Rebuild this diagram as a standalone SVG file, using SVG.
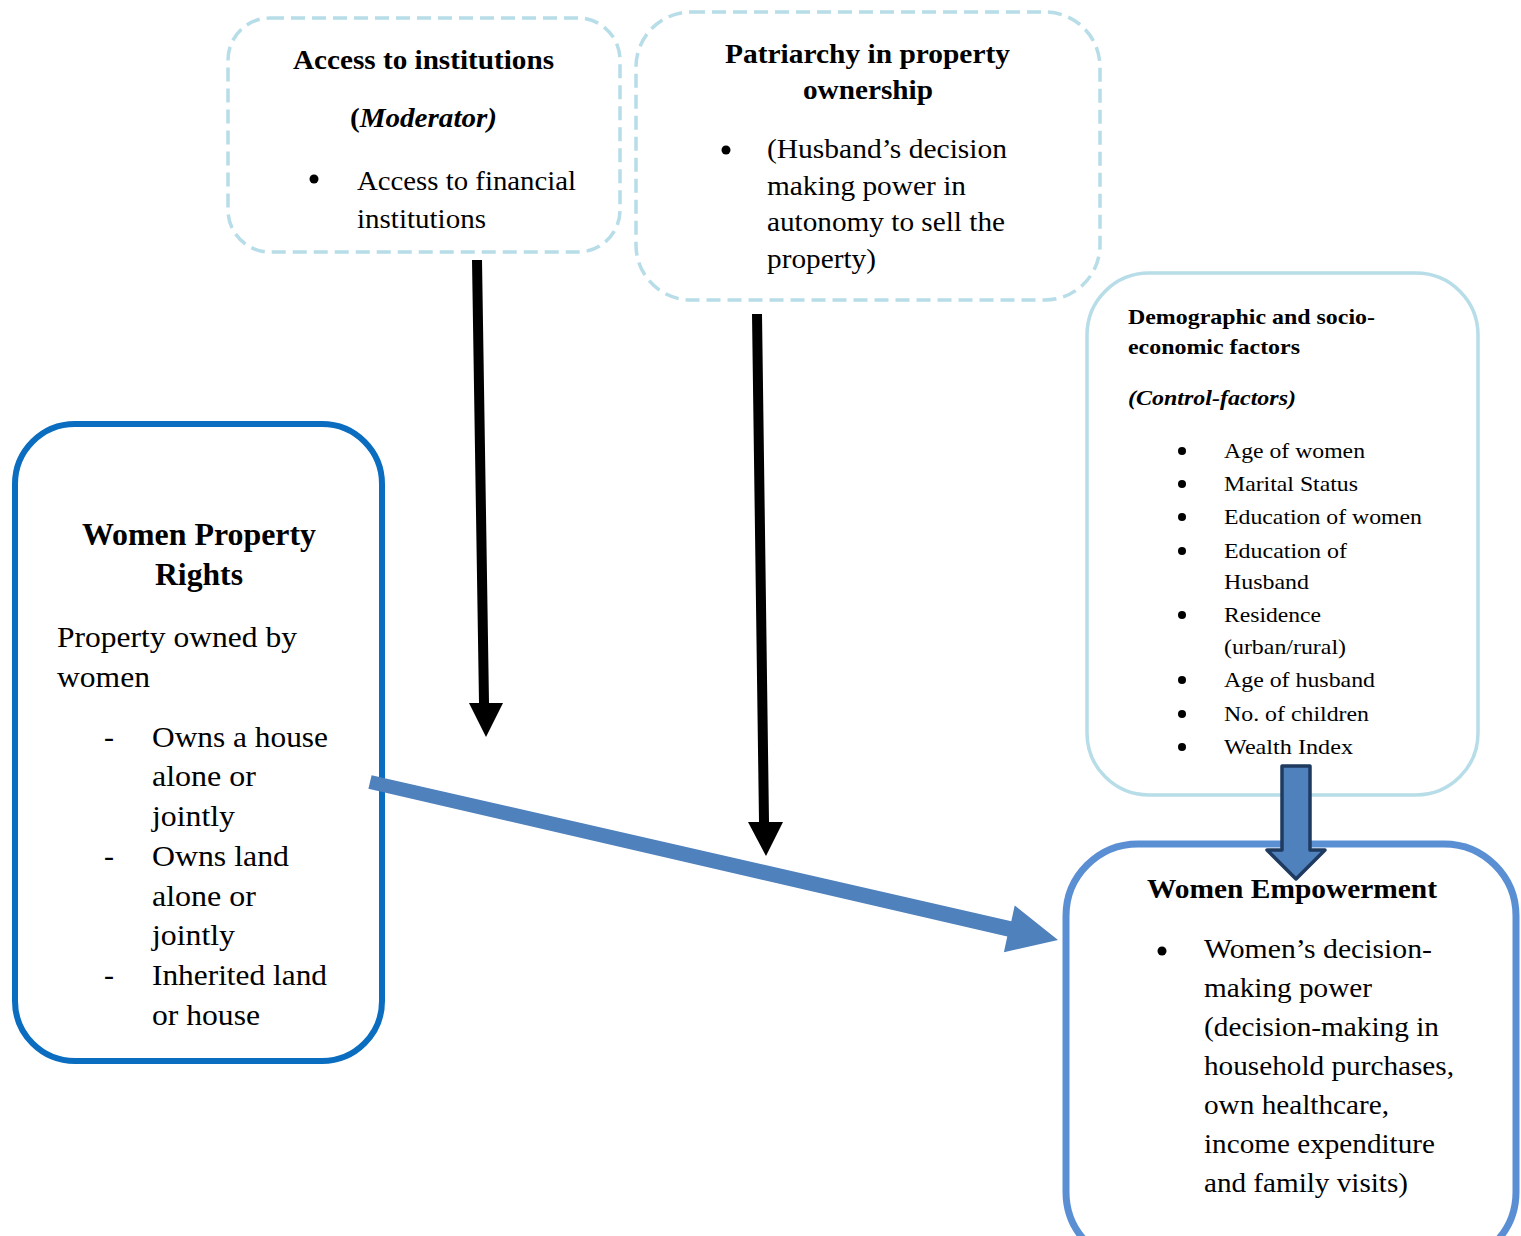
<svg xmlns="http://www.w3.org/2000/svg" width="1521" height="1236" viewBox="0 0 1521 1236">
<style>
text{font-family:"Liberation Serif","Times New Roman",serif;fill:#000}
.b{font-weight:bold}
.bi{font-weight:bold;font-style:italic}
.dash{fill:#fff;stroke:#b7dde8;stroke-width:3.5;stroke-dasharray:14,7}
.t26{font-size:27px}
.t27{font-size:28px}
.t20{font-size:21.5px}
.t28{font-size:30px}
</style>
<rect width="1521" height="1236" fill="#fff"/>
<g id="node-access">
<rect class="dash" x="228" y="18" width="392" height="234" rx="42"/>
<text class="b t26" x="293" y="69" textLength="261" lengthAdjust="spacingAndGlyphs">Access to institutions</text>
<text class="b t26" x="350" y="127" textLength="147" lengthAdjust="spacingAndGlyphs">(<tspan font-style="italic">Moderator)</tspan></text>
<circle cx="314" cy="179" r="4.5"/>
<text class="t26" x="357" y="190" textLength="219" lengthAdjust="spacingAndGlyphs">Access to financial</text>
<text class="t26" x="357" y="228" textLength="129" lengthAdjust="spacingAndGlyphs">institutions</text>
</g>
<g id="node-patriarchy">
<rect class="dash" x="636" y="12" width="464" height="288" rx="55"/>
<text class="b t27" x="725" y="63" textLength="285" lengthAdjust="spacingAndGlyphs">Patriarchy in property</text>
<text class="b t27" x="803" y="99" textLength="130" lengthAdjust="spacingAndGlyphs">ownership</text>
<circle cx="726" cy="150" r="4.5"/>
<text class="t27" x="767" y="158" textLength="240" lengthAdjust="spacingAndGlyphs">(Husband’s decision</text>
<text class="t27" x="767" y="195" textLength="199" lengthAdjust="spacingAndGlyphs">making power in</text>
<text class="t27" x="767" y="231" textLength="238" lengthAdjust="spacingAndGlyphs">autonomy to sell the</text>
<text class="t27" x="767" y="268" textLength="109" lengthAdjust="spacingAndGlyphs">property)</text>
</g>
<g id="node-demographic">
<rect x="1087" y="273" width="391" height="522" rx="62" fill="#fff" stroke="#b7dde8" stroke-width="3.5"/>
<text class="b t20" x="1128" y="324" textLength="247" lengthAdjust="spacingAndGlyphs">Demographic and socio-</text>
<text class="b t20" x="1128" y="354" textLength="172" lengthAdjust="spacingAndGlyphs">economic factors</text>
<text class="bi t20" x="1128" y="405" textLength="168" lengthAdjust="spacingAndGlyphs">(Control-factors)</text>
<circle cx="1182" cy="451" r="4"/><text class="t20" x="1224" y="458" textLength="141" lengthAdjust="spacingAndGlyphs">Age of women</text>
<circle cx="1182" cy="484" r="4"/><text class="t20" x="1224" y="491" textLength="134" lengthAdjust="spacingAndGlyphs">Marital Status</text>
<circle cx="1182" cy="517" r="4"/><text class="t20" x="1224" y="524" textLength="198" lengthAdjust="spacingAndGlyphs">Education of women</text>
<circle cx="1182" cy="551" r="4"/><text class="t20" x="1224" y="558" textLength="123" lengthAdjust="spacingAndGlyphs">Education of</text>
<text class="t20" x="1224" y="589" textLength="85" lengthAdjust="spacingAndGlyphs">Husband</text>
<circle cx="1182" cy="615" r="4"/><text class="t20" x="1224" y="622" textLength="97" lengthAdjust="spacingAndGlyphs">Residence</text>
<text class="t20" x="1224" y="654" textLength="122" lengthAdjust="spacingAndGlyphs">(urban/rural)</text>
<circle cx="1182" cy="680" r="4"/><text class="t20" x="1224" y="687" textLength="151" lengthAdjust="spacingAndGlyphs">Age of husband</text>
<circle cx="1182" cy="714" r="4"/><text class="t20" x="1224" y="721" textLength="145" lengthAdjust="spacingAndGlyphs">No. of children</text>
<circle cx="1182" cy="747" r="4"/><text class="t20" x="1224" y="754" textLength="129" lengthAdjust="spacingAndGlyphs">Wealth Index</text>
</g>
<g id="node-property">
<rect x="15" y="424" width="367" height="637" rx="60" fill="#fff" stroke="#0a6dbf" stroke-width="6"/>
<text class="b" font-size="31" x="82" y="545" textLength="234" lengthAdjust="spacingAndGlyphs">Women Property</text>
<text class="b" font-size="31" x="155" y="585" textLength="88" lengthAdjust="spacingAndGlyphs">Rights</text>
<text class="t28" x="57" y="647" textLength="240" lengthAdjust="spacingAndGlyphs">Property owned by</text>
<text class="t28" x="57" y="687" textLength="93" lengthAdjust="spacingAndGlyphs">women</text>
<text class="t28" x="104" y="747">-</text><text class="t28" x="152" y="747" textLength="176" lengthAdjust="spacingAndGlyphs">Owns a house</text>
<text class="t28" x="152" y="786" textLength="104" lengthAdjust="spacingAndGlyphs">alone or</text>
<text class="t28" x="152" y="826" textLength="83" lengthAdjust="spacingAndGlyphs">jointly</text>
<text class="t28" x="104" y="866">-</text><text class="t28" x="152" y="866" textLength="137" lengthAdjust="spacingAndGlyphs">Owns land</text>
<text class="t28" x="152" y="906" textLength="104" lengthAdjust="spacingAndGlyphs">alone or</text>
<text class="t28" x="152" y="945" textLength="83" lengthAdjust="spacingAndGlyphs">jointly</text>
<text class="t28" x="104" y="985">-</text><text class="t28" x="152" y="985" textLength="175" lengthAdjust="spacingAndGlyphs">Inherited land</text>
<text class="t28" x="152" y="1025" textLength="108" lengthAdjust="spacingAndGlyphs">or house</text>
</g>
<g id="node-empowerment">
<rect x="1066" y="844" width="450" height="420" rx="72" fill="#fff" stroke="#5b8fd4" stroke-width="7"/>
<text class="b t27" x="1147" y="898" textLength="290" lengthAdjust="spacingAndGlyphs">Women Empowerment</text>
<circle cx="1162" cy="951" r="4.5"/>
<text class="t27" x="1204" y="958" textLength="228" lengthAdjust="spacingAndGlyphs">Women’s decision-</text>
<text class="t27" x="1204" y="997" textLength="168" lengthAdjust="spacingAndGlyphs">making power</text>
<text class="t27" x="1204" y="1036" textLength="235" lengthAdjust="spacingAndGlyphs">(decision-making in</text>
<text class="t27" x="1204" y="1075" textLength="250" lengthAdjust="spacingAndGlyphs">household purchases,</text>
<text class="t27" x="1204" y="1114" textLength="185" lengthAdjust="spacingAndGlyphs">own healthcare,</text>
<text class="t27" x="1204" y="1153" textLength="231" lengthAdjust="spacingAndGlyphs">income expenditure</text>
<text class="t27" x="1204" y="1192" textLength="204" lengthAdjust="spacingAndGlyphs">and family visits)</text>
</g>
<g id="connectors">
<polygon fill="#000" points="472,260 482,260 489,703 503,703 486,737 469,703 479,703"/>
<polygon fill="#000" points="752,314 762,314 769,822 783,822 766,856 748,822 759,822"/>
<polygon fill="#4f81bd" points="371.6,775.2 1011.3,921.2 1014.7,905.4 1058,940 1003.9,952.2 1007.3,936.4 368.4,788.8"/>
<polygon fill="#4f81bd" stroke="#1f3a5f" stroke-width="3.5" stroke-linejoin="round" points="1282,766 1310,766 1310,850 1325,850 1296,879 1267,850 1282,850"/>
</g>
</svg>
